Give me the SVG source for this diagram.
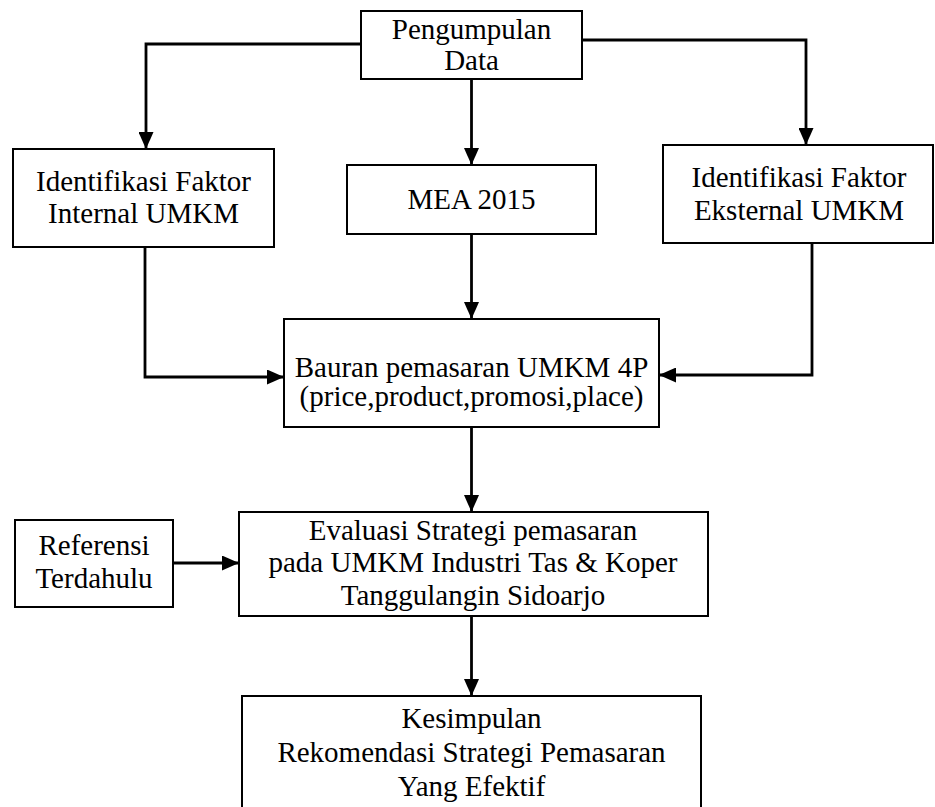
<svg xmlns="http://www.w3.org/2000/svg" width="935" height="807" viewBox="0 0 935 807">
<style>
.box{fill:#fff;stroke:#000;stroke-width:2}
.t{font-family:"Liberation Serif","Times New Roman",serif;font-size:29px;fill:#000;text-anchor:middle}
.c{fill:none;stroke:#000;stroke-width:2.8}
</style>
<defs>
<marker id="ah" viewBox="0 0 17 15" refX="17" refY="7.5" markerWidth="17" markerHeight="15" markerUnits="userSpaceOnUse" orient="auto">
<path d="M0,0 L17,7.5 L0,15 Z" fill="#000"/>
</marker>
</defs>
<rect width="935" height="807" fill="#fff"/>
<g id="connectors">
<path class="c" d="M361,44 H146 V149" marker-end="url(#ah)"/>
<path class="c" d="M582,40 H806 V145" marker-end="url(#ah)"/>
<path class="c" d="M471.5,79 V165" marker-end="url(#ah)"/>
<path class="c" d="M145,247 V377 H284" marker-end="url(#ah)"/>
<path class="c" d="M471.5,234 V319" marker-end="url(#ah)"/>
<path class="c" d="M812,243 V375 H659" marker-end="url(#ah)"/>
<path class="c" d="M471.5,427 V512" marker-end="url(#ah)"/>
<path class="c" d="M173,563 H239" stroke-width="3.5" marker-end="url(#ah)"/>
<path class="c" d="M471.5,616 V696" marker-end="url(#ah)"/>
</g>
<g id="pengumpulan">
<rect class="box" x="361" y="11" width="221" height="68"/>
<text class="t" x="471.5" y="39">Pengumpulan</text>
<text class="t" x="471.5" y="70">Data</text>
</g>
<g id="internal">
<rect class="box" x="13" y="149" width="261" height="98"/>
<text class="t" x="143.5" y="191">Identifikasi Faktor</text>
<text class="t" x="143.5" y="223">Internal UMKM</text>
</g>
<g id="mea">
<rect class="box" x="347" y="165" width="249" height="69"/>
<text class="t" x="471.5" y="209">MEA 2015</text>
</g>
<g id="eksternal">
<rect class="box" x="663" y="145" width="270" height="98"/>
<text class="t" x="799" y="187">Identifikasi Faktor</text>
<text class="t" x="799" y="220">Eksternal UMKM</text>
</g>
<g id="bauran">
<rect class="box" x="284" y="319" width="375" height="108"/>
<text class="t" x="471.5" y="377">Bauran pemasaran UMKM 4P</text>
<text class="t" x="471.5" y="406">(price,product,promosi,place)</text>
</g>
<g id="referensi">
<rect class="box" x="15" y="520" width="158" height="87"/>
<text class="t" x="94" y="555">Referensi</text>
<text class="t" x="94" y="588">Terdahulu</text>
</g>
<g id="evaluasi">
<rect class="box" x="239" y="512" width="469" height="104"/>
<text class="t" x="473" y="540">Evaluasi Strategi pemasaran</text>
<text class="t" x="473" y="572">pada UMKM Industri Tas &amp; Koper</text>
<text class="t" x="473" y="605">Tanggulangin Sidoarjo</text>
</g>
<g id="kesimpulan">
<rect class="box" x="242" y="696" width="459" height="120"/>
<text class="t" x="471.5" y="728">Kesimpulan</text>
<text class="t" x="471.5" y="762">Rekomendasi Strategi Pemasaran</text>
<text class="t" x="471.5" y="796">Yang Efektif</text>
</g>
</svg>
